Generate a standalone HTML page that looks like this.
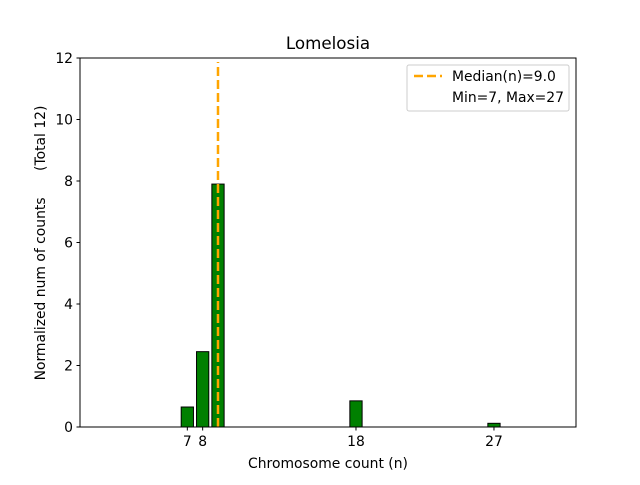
<!DOCTYPE html>
<html><head><meta charset="utf-8"><style>
body{margin:0;background:#fff;}
svg text{font-family:"DejaVu Sans","Liberation Sans",sans-serif;fill:#000;}
</style></head><body>
<svg width="640" height="480" xmlns="http://www.w3.org/2000/svg">
<rect width="640" height="480" fill="#fff"/>
<text x="328" y="49" font-size="16.7" text-anchor="middle">Lomelosia</text>
<g id="bars"></g>
<line id="median" stroke="#FFA500" stroke-width="2.5" stroke-dasharray="9,4"/>
<rect x="80" y="58" width="496" height="369" fill="none" stroke="#000" stroke-width="1"/>
<g id="yticks"></g>
<g id="xticks"></g>
<text x="328" y="468" font-size="13.9" text-anchor="middle">Chromosome count (n)</text>
<text transform="translate(45,243) rotate(-90)" font-size="13.9" text-anchor="middle" style="white-space:pre" xml:space="preserve">Normalized num of counts      (Total 12)</text>
<g>
<rect x="407" y="65" width="162" height="46" rx="2" fill="#fff" fill-opacity="0.8" stroke="#ccc"/>
<line x1="414" y1="76" x2="442" y2="76" stroke="#FFA500" stroke-width="2.5" stroke-dasharray="9,4"/>
<text x="452" y="81" font-size="13.9">Median(n)=9.0</text>
<text x="452" y="102" font-size="13.9">Min=7, Max=27</text>
</g>
</svg>
<script>
const categories=[7,8,9,18,27];
const values=[0.65,2.45,7.9,0.85,0.12];
const yTicks=[0,2,4,6,8,10,12];
const xTicks=[7,8,18,27];
const median=9.0;
const NS="http://www.w3.org/2000/svg";
const X0=80,X1=576,Y0=427,Y1=58,xmin=0,xmax=32.35,ymin=0,ymax=12;
const xs=v=>X0+(v-xmin)/(xmax-xmin)*(X1-X0);
const ys=v=>Y0-(v-ymin)/(ymax-ymin)*(Y0-Y1);
const bars=document.getElementById('bars');
categories.forEach((c,i)=>{
 const r=document.createElementNS(NS,'rect');
 const x=xs(c-0.4),w=xs(c+0.4)-x;
 r.setAttribute('x',x);r.setAttribute('width',w);
 r.setAttribute('y',ys(values[i]));r.setAttribute('height',Y0-ys(values[i]));
 r.setAttribute('fill','#008000');r.setAttribute('stroke','#000');r.setAttribute('stroke-width','1');
 
 
 bars.appendChild(r);
});
const m=document.getElementById('median');
m.setAttribute('x1',xs(median));m.setAttribute('x2',xs(median));
m.setAttribute('y1',Y0);m.setAttribute('y2',Y1+4);
const yg=document.getElementById('yticks');
yTicks.forEach(t=>{
 const l=document.createElementNS(NS,'line');
 l.setAttribute('x1',X0-3.5);l.setAttribute('x2',X0);l.setAttribute('y1',ys(t));l.setAttribute('y2',ys(t));l.setAttribute('stroke','#000');
 
 
 yg.appendChild(l);
 const tx=document.createElementNS(NS,'text');
 tx.setAttribute('x',X0-7);tx.setAttribute('y',ys(t)+5);tx.setAttribute('font-size','13.9');tx.setAttribute('text-anchor','end');
 tx.textContent=t;
 
 
 yg.appendChild(tx);
});
const xg=document.getElementById('xticks');
xTicks.forEach(t=>{
 const l=document.createElementNS(NS,'line');
 l.setAttribute('x1',xs(t));l.setAttribute('x2',xs(t));l.setAttribute('y1',Y0);l.setAttribute('y2',Y0+3.5);l.setAttribute('stroke','#000');
 
 
 xg.appendChild(l);
 const tx=document.createElementNS(NS,'text');
 tx.setAttribute('x',xs(t));tx.setAttribute('y',Y0+19);tx.setAttribute('font-size','13.9');tx.setAttribute('text-anchor','middle');
 tx.textContent=t;
 
 
 xg.appendChild(tx);
});
</script>
</body></html>
